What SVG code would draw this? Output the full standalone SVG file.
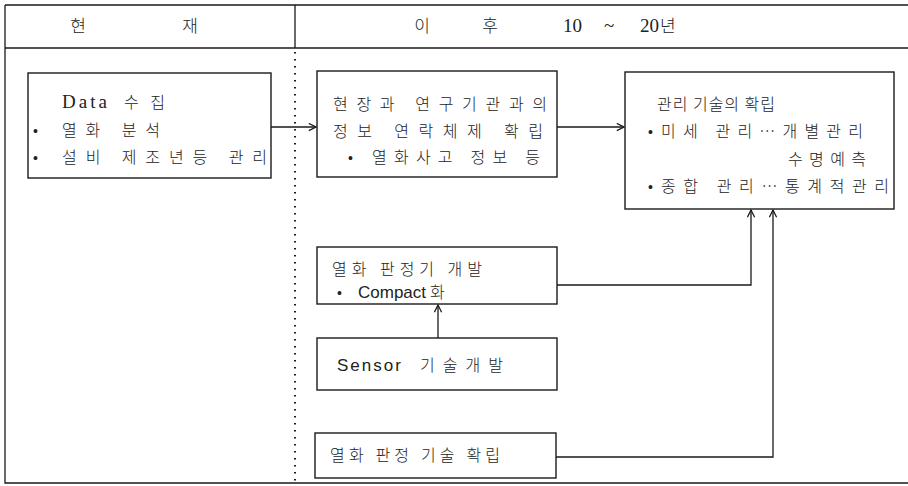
<svg xmlns="http://www.w3.org/2000/svg" width="908" height="486" viewBox="0 0 908 486">
<style>
.frame{fill:none;stroke:#1a1a1a;stroke-width:1.3}
.box{fill:#fff;stroke:#1a1a1a;stroke-width:1.4}
.con{fill:none;stroke:#1a1a1a;stroke-width:1.3}
.dot{fill:none;stroke:#1a1a1a;stroke-width:2;stroke-dasharray:1.6 5.4}
.k{font-family:"Noto Sans CJK KR","Noto Sans",sans-serif;font-size:16px;fill:#222;font-weight:300}
.h{font-size:17px}
.s{font-family:"Liberation Serif","Noto Sans CJK KR",serif;font-size:19px;fill:#222}
.a{font-family:"Liberation Sans","Noto Sans CJK KR",sans-serif;font-size:17px;fill:#222}
.b{font-family:"Liberation Sans",sans-serif;font-size:14px;fill:#222}
</style>
<defs>
<marker id="arr" viewBox="0 0 10 10" refX="9" refY="5" markerWidth="9" markerHeight="9" markerUnits="userSpaceOnUse" orient="auto">
<path d="M1,1 L9,5 L1,9" fill="none" stroke="#1a1a1a" stroke-width="1.4"/>
</marker>
</defs>
<rect width="908" height="486" fill="#fff"/>
<g id="frame">
<path class="frame" d="M5,5 H908 M5,48 H908 M5,5 V483 H908 M295,5 V48"/>
<path class="dot" d="M295,52 V483"/>
<text class="k h" x="78" y="32" text-anchor="middle">현</text>
<text class="k h" x="190" y="32" text-anchor="middle">재</text>
<text class="k h" x="422" y="32" text-anchor="middle">이</text>
<text class="k h" x="490" y="32" text-anchor="middle">후</text>
<text class="s" x="563" y="32">10</text>
<text class="s" x="604" y="32">~</text>
<text class="s" x="640" y="32">20</text>
<text class="k h" x="660" y="32" textLength="52" lengthAdjust="spacing"> 년</text>
</g>
<g id="connectors">
<path class="con" d="M271,127 H316" marker-end="url(#arr)"/>
<path class="con" d="M557,127 H624" marker-end="url(#arr)"/>
<path class="con" d="M438,338 V305" marker-end="url(#arr)"/>
<path class="con" d="M557,285 H751 V210" marker-end="url(#arr)"/>
<path class="con" d="M556,457 H773 V210" marker-end="url(#arr)"/>
</g>
<g id="n1">
<rect class="box" x="28" y="73" width="243" height="105"/>
<text class="s" x="62" y="108" textLength="45" lengthAdjust="spacing">Data</text>
<text class="k" x="124" y="108" textLength="41" lengthAdjust="spacing">수집</text>
<text class="b" x="33" y="136">•</text>
<text class="k" x="62" y="136" textLength="98" lengthAdjust="spacing">열화  분석</text>
<text class="b" x="33" y="163">•</text>
<text class="k" x="62" y="163" textLength="205" lengthAdjust="spacing">설비 제조년등 관리</text>
</g>
<g id="n2">
<rect class="box" x="317" y="71" width="240" height="106"/>
<text class="k" x="333" y="110" textLength="214" lengthAdjust="spacing">현장과 연구기관과의</text>
<text class="k" x="333" y="137" textLength="210" lengthAdjust="spacing">정보 연락체제 확립</text>
<text class="b" x="348" y="163">•</text>
<text class="k" x="372" y="163" textLength="168" lengthAdjust="spacing">열화사고 정보 등</text>
</g>
<g id="n3">
<rect class="box" x="625" y="72" width="269" height="137"/>
<text class="k" x="657" y="110" textLength="118" lengthAdjust="spacing">관리 기술의 확립</text>
<text class="b" x="648" y="137">•</text>
<text class="k" x="661" y="137" textLength="202" lengthAdjust="spacing">미세 관리…개별관리</text>
<text class="k" x="788" y="165" textLength="78" lengthAdjust="spacing">수명예측</text>
<text class="b" x="648" y="192">•</text>
<text class="k" x="661" y="192" textLength="228" lengthAdjust="spacing">종합 관리…통계적관리</text>
</g>
<g id="n4">
<rect class="box" x="317" y="247" width="240" height="57"/>
<text class="k" x="332" y="275" textLength="150" lengthAdjust="spacing">열화 판정기 개발</text>
<text class="b" x="337" y="298">•</text>
<text class="a" x="358" y="298">Compact</text>
<text class="k" x="430" y="298">화</text>
</g>
<g id="n5">
<rect class="box" x="317" y="338" width="240" height="52"/>
<text class="a" x="337" y="371" textLength="64" lengthAdjust="spacing">Sensor</text>
<text class="k" x="420" y="371" textLength="83" lengthAdjust="spacing">기술개발</text>
</g>
<g id="n6">
<rect class="box" x="315" y="433" width="241" height="45"/>
<text class="k" x="330" y="461" textLength="170" lengthAdjust="spacing">열화 판정 기술 확립</text>
</g>
</svg>
